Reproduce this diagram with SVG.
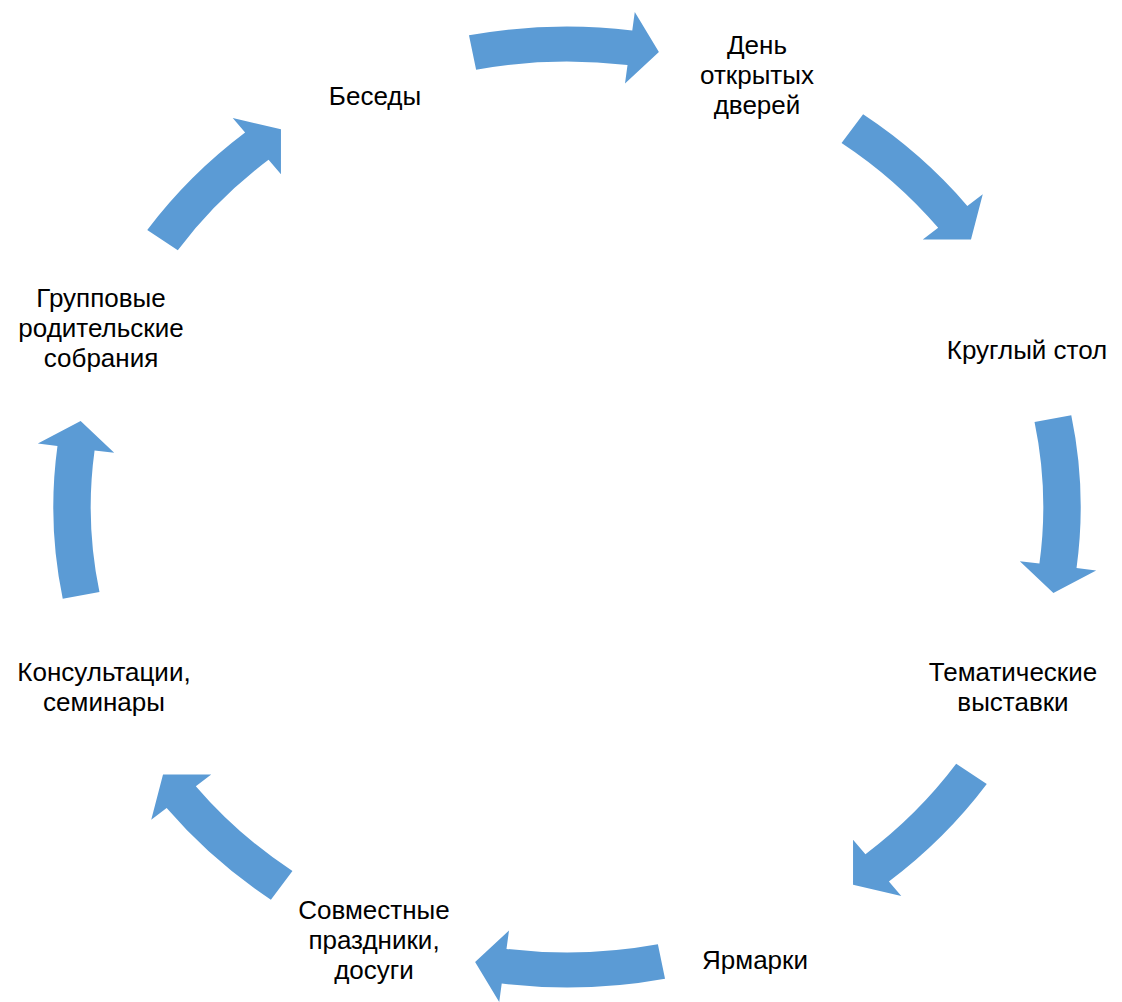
<svg xmlns="http://www.w3.org/2000/svg" width="1122" height="1002" viewBox="0 0 1122 1002">
<style>
  .lbl { font-family: "Liberation Sans", Arial, sans-serif; font-size: 26px; fill: #000; text-anchor: middle; }
  .arr { fill: #5B9BD5; }
</style>
<defs>
  <path id="axisArrow" class="arr" d="M -91.69 -471.67 A 480.5 480.5 0 0 1 61.05 -476.60 L 63.40 -494.95 L 85.96 -454.95 L 54.25 -423.54 L 56.61 -441.89 A 445.5 445.5 0 0 0 -85.01 -437.32 Z"/>
  <path id="diagArrow" class="arr" d="M -81.79 -473.49 A 480.5 480.5 0 0 1 51.89 -477.69 L 53.89 -496.08 L 78.01 -456.38 L 46.12 -424.50 L 48.11 -442.89 A 445.5 445.5 0 0 0 -75.83 -439.00 Z"/>
</defs>
<rect width="1122" height="1002" fill="#fff"/>
<g id="connectors">
  <use href="#axisArrow" transform="translate(567 507) scale(1.0691 1) rotate(0)"/>
  <use href="#diagArrow" transform="translate(567 507) scale(1.0691 1) rotate(45)"/>
  <use href="#axisArrow" transform="translate(567 507) scale(1.0691 1) rotate(90)"/>
  <use href="#diagArrow" transform="translate(567 507) scale(1.0691 1) rotate(135)"/>
  <use href="#axisArrow" transform="translate(567 507) scale(1.0691 1) rotate(180)"/>
  <use href="#diagArrow" transform="translate(567 507) scale(1.0691 1) rotate(225)"/>
  <use href="#axisArrow" transform="translate(567 507) scale(1.0691 1) rotate(270)"/>
  <use href="#diagArrow" transform="translate(567 507) scale(1.0691 1) rotate(315)"/>
</g>
<g id="node-besedy"><text class="lbl" x="375" y="105">Беседы</text></g>
<g id="node-den"><text class="lbl" x="757" y="54">День</text><text class="lbl" x="757" y="84">открытых</text><text class="lbl" x="757" y="114">дверей</text></g>
<g id="node-kruglyi"><text class="lbl" x="1027" y="359">Круглый стол</text></g>
<g id="node-tematicheskie"><text class="lbl" x="1013" y="681">Тематические</text><text class="lbl" x="1013" y="711">выставки</text></g>
<g id="node-yarmarki"><text class="lbl" x="755" y="969">Ярмарки</text></g>
<g id="node-sovmestnye"><text class="lbl" x="374" y="919">Совместные</text><text class="lbl" x="374" y="949">праздники,</text><text class="lbl" x="374" y="979">досуги</text></g>
<g id="node-konsultacii"><text class="lbl" x="104" y="681">Консультации,</text><text class="lbl" x="104" y="711">семинары</text></g>
<g id="node-gruppovye"><text class="lbl" x="101" y="307">Групповые</text><text class="lbl" x="101" y="337">родительские</text><text class="lbl" x="101" y="367">собрания</text></g>
</svg>
